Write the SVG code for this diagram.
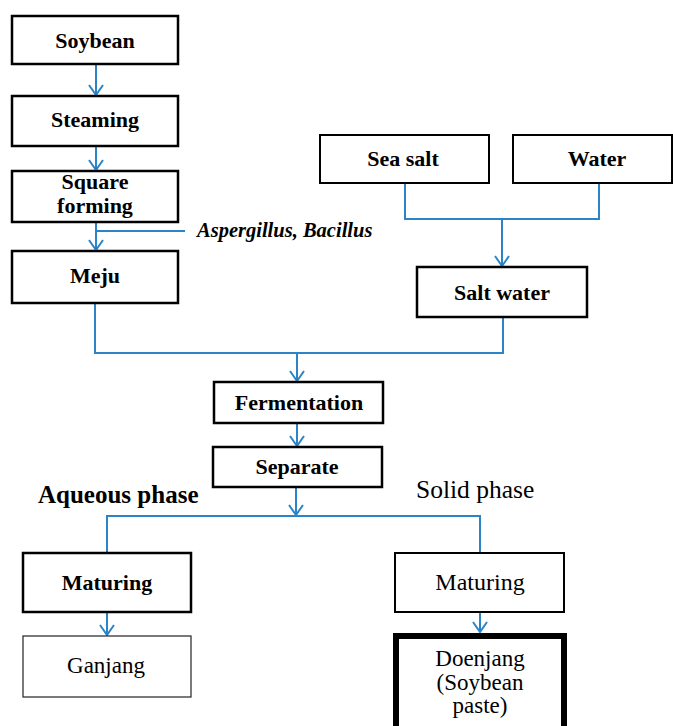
<svg xmlns="http://www.w3.org/2000/svg" width="673" height="726" viewBox="0 0 673 726">
<style>
.box{fill:#fff;stroke:#000;stroke-width:2.5}
.thin{fill:#fff;stroke:#222;stroke-width:1.2}
.heavy{fill:#fff;stroke:#000;stroke-width:6}
.t{font-family:"Liberation Serif","Times New Roman",serif;font-size:23px;text-anchor:middle;fill:#000}
.b{font-weight:bold;font-size:22px}
.c{fill:none;stroke:#2a84c6;stroke-width:2}
</style>
<defs>
<marker id="ah" viewBox="0 0 12 16" refX="11" refY="8" markerWidth="12" markerHeight="16" markerUnits="userSpaceOnUse" orient="auto">
<path d="M1,1 L11,8 L1,15" fill="none" stroke="#2a84c6" stroke-width="2"/>
</marker>
</defs>
<g id="connectors">
<line class="c" x1="96" y1="64" x2="96" y2="95" marker-end="url(#ah)"/>
<line class="c" x1="96" y1="146" x2="96" y2="170" marker-end="url(#ah)"/>
<line class="c" x1="96" y1="222" x2="96" y2="250" marker-end="url(#ah)"/>
<line class="c" x1="96" y1="231" x2="185" y2="231"/>
<polyline class="c" points="95,303 95,353 503,353 503,317"/>
<line class="c" x1="297" y1="353" x2="297" y2="381" marker-end="url(#ah)"/>
<polyline class="c" points="405,183 405,219 599,219 599,183"/>
<line class="c" x1="502" y1="219" x2="502" y2="266" marker-end="url(#ah)"/>
<line class="c" x1="297" y1="423" x2="297" y2="446" marker-end="url(#ah)"/>
<line class="c" x1="296" y1="487" x2="296" y2="515" marker-end="url(#ah)"/>
<polyline class="c" points="107,553 107,516 480,516 480,553"/>
<line class="c" x1="107" y1="612" x2="107" y2="635" marker-end="url(#ah)"/>
<line class="c" x1="480" y1="612" x2="480" y2="632" marker-end="url(#ah)"/>
</g>
<g id="soybean"><rect class="box" x="12" y="16" width="166" height="48"/><text class="t b" x="95" y="48">Soybean</text></g>
<g id="steaming"><rect class="box" x="12" y="96" width="166" height="50"/><text class="t b" x="95" y="127">Steaming</text></g>
<g id="square-forming"><rect class="box" x="12" y="171" width="166" height="51"/><text class="t b" x="95" y="189">Square</text><text class="t b" x="95" y="213">forming</text></g>
<g id="meju"><rect class="box" x="12" y="251" width="166" height="52"/><text class="t b" x="95" y="283">Meju</text></g>
<g id="microbes"><text class="t b" x="197" y="237" style="text-anchor:start;font-style:italic;font-size:20.5px">Aspergillus, Bacillus</text></g>
<g id="sea-salt"><rect class="box" x="320" y="135" width="169" height="48" style="stroke-width:2"/><text class="t b" x="403" y="166">Sea salt</text></g>
<g id="water"><rect class="box" x="513" y="135" width="159" height="48" style="stroke-width:2"/><text class="t b" x="597" y="166">Water</text></g>
<g id="salt-water"><rect class="box" x="417" y="267" width="170" height="50"/><text class="t b" x="502" y="300">Salt water</text></g>
<g id="fermentation"><rect class="box" x="214" y="382" width="169" height="41"/><text class="t b" x="299" y="410">Fermentation</text></g>
<g id="separate"><rect class="box" x="213" y="447" width="169" height="40"/><text class="t b" x="297" y="474">Separate</text></g>
<g id="aqueous-label"><text class="t b" x="38" y="503" style="text-anchor:start;font-size:25px">Aqueous phase</text></g>
<g id="solid-label"><text class="t" x="416" y="498" style="text-anchor:start;font-size:25.5px">Solid phase</text></g>
<g id="maturing-left"><rect class="box" x="23" y="553" width="168" height="59"/><text class="t b" x="107" y="590">Maturing</text></g>
<g id="maturing-right"><rect class="box" x="395" y="553" width="169" height="59" style="stroke-width:2"/><text class="t" x="480" y="590" style="font-size:24px">Maturing</text></g>
<g id="ganjang"><rect class="thin" x="23" y="636" width="168" height="61"/><text class="t" x="106" y="673">Ganjang</text></g>
<g id="doenjang"><rect class="heavy" x="396" y="636" width="168" height="100"/><text class="t" x="480" y="666">Doenjang</text><text class="t" x="480" y="690">(Soybean</text><text class="t" x="480" y="713">paste)</text></g>
</svg>
